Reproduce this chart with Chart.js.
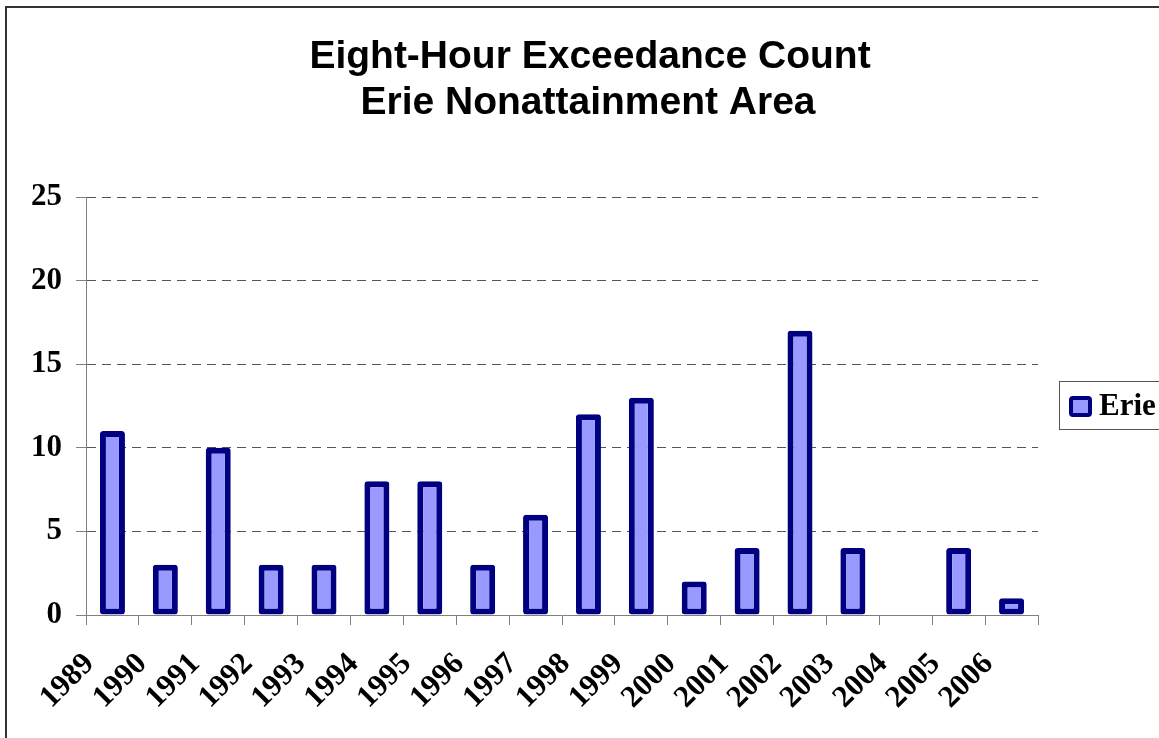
<!DOCTYPE html>
<html>
<head>
<meta charset="utf-8">
<script src="https://cdn.jsdelivr.net/npm/chart.js@4/dist/chart.umd.min.js"></script>
<style>
  body { margin: 0; overflow: hidden; background: #fff; }
  #frame {
    position: absolute; left: 5px; top: 6px; width: 1300px; height: 900px;
    border: 2px solid #333;
  }
  #wrap { position: absolute; left: 0; top: 0; width: 1159px; height: 738px; }
</style>
</head>
<body>
<div id="frame"></div>
<div id="wrap"><canvas id="chart_erie" width="1159" height="738"></canvas></div>
<script>
const years = [
  "1989", "1990", "1991", "1992", "1993", "1994", "1995", "1996", "1997",
  "1998", "1999", "2000", "2001", "2002", "2003", "2004", "2005", "2006",
];
const erieCounts = [11, 3, 10, 3, 3, 8, 8, 3, 6, 12, 13, 2, 4, 17, 4, 0, 4, 1];
const titleLines = ["Eight-Hour Exceedance Count", "Erie Nonattainment Area"];
const seriesName = "Erie";

const serif = "'Liberation Serif', 'Times New Roman', serif";
const sans = "'Liberation Sans', Arial, sans-serif";

// title and boxed legend drawn by hand, like the original spreadsheet chart
const extras = {
  id: "extras",
  afterDraw(chart) {
    const ctx = chart.ctx;
    const area = chart.chartArea;
    ctx.save();
    ctx.fillStyle = "#000";
    ctx.font = "bold 39px " + sans;
    ctx.textAlign = "center";
    ctx.textBaseline = "middle";
    ctx.fillText(titleLines[0], 590, 57);
    ctx.fillText(titleLines[1], 588, 103);

    const mid = (area.top + area.bottom) / 2;
    const bx = area.right + 21;
    ctx.strokeStyle = "#555";
    ctx.lineWidth = 1;
    ctx.strokeRect(bx + 0.5, mid - 24.5, 130, 48);

    ctx.fillStyle = "#9999FF";
    ctx.strokeStyle = "#000080";
    ctx.lineWidth = 4;
    ctx.beginPath();
    ctx.roundRect(bx + 12, mid - 8, 19, 17, 2);
    ctx.fill();
    ctx.stroke();

    ctx.fillStyle = "#000";
    ctx.font = "bold 31px " + serif;
    ctx.textAlign = "left";
    ctx.fillText(seriesName, bx + 40, mid + 1);
    ctx.restore();
  },
};

const chart = new Chart(document.getElementById("chart_erie"), {
  type: "bar",
  data: {
    labels: years,
    datasets: [
      {
        label: seriesName,
        data: erieCounts,
        backgroundColor: "#9999FF",
        borderColor: "#000080",
        borderWidth: 6,
        borderSkipped: false,
        borderRadius: 3,
        barPercentage: 0.473,
        categoryPercentage: 1,
      },
    ],
  },
  options: {
    responsive: false,
    animation: false,
    layout: { padding: { top: 197, right: 121, left: 0, bottom: 0 } },
    plugins: {
      legend: { display: false },
      title: { display: false },
      tooltip: { enabled: false },
    },
    scales: {
      x: {
        grid: { drawOnChartArea: false, offset: true, tickLength: 10, color: "#808080" },
        border: { color: "#808080", width: 1 },
        ticks: {
          autoSkip: false,
          minRotation: 45,
          maxRotation: 45,
          padding: 21,
          labelOffset: -23,
          color: "#000",
          font: { family: serif, size: 31, weight: "bold" },
        },
        afterFit(scale) {
          scale.height = 123;
        },
      },
      y: {
        min: 0,
        max: 25,
        ticks: {
          stepSize: 5,
          padding: 14,
          color: "#000",
          font: { family: serif, size: 31, weight: "bold" },
        },
        grid: { color: "#555", tickColor: "#808080", tickLength: 10, tickBorderDash: [] },
        border: { color: "#808080", width: 1, dash: [9, 6] },
        afterFit(scale) {
          scale.width = 86;
        },
      },
    },
  },
  plugins: [extras],
});
</script>
</body>
</html>
